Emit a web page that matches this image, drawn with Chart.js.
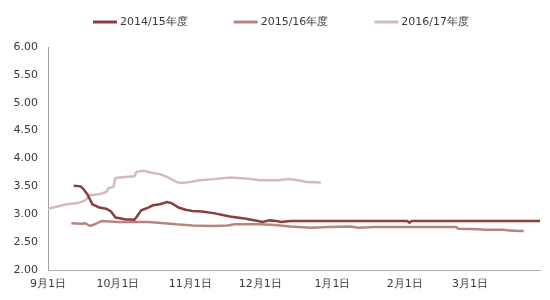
<!DOCTYPE html>
<html>
<head>
<meta charset="utf-8">
<script src="https://cdn.jsdelivr.net/npm/chart.js@4/dist/chart.umd.min.js"></script>
<style>
  html, body { margin: 0; padding: 0; background: #fff; }
  #wrap { width: 550px; height: 300px; }
</style>
</head>
<body>
<div id="wrap"><canvas id="priceChart" width="550" height="300"></canvas></div>
<script>
// x = days since 9月1日
const seriesNames = ["2014/15年度", "2015/16年度", "2016/17年度"];
const seriesColors = ["#8e3d3d", "#b88481", "#d4baba"];

const monthDays = [0, 30, 61, 91, 122, 153, 181];
const monthLabels = ["9月1日", "10月1日", "11月1日", "12月1日", "1月1日", "2月1日", "3月1日"];
const yTicks = [2.00, 2.50, 3.00, 3.50, 4.00, 4.50, 5.00, 5.50, 6.00];

const days1415 = [11, 14, 15, 17, 19, 22, 25, 27, 29, 33, 37, 38, 40, 43, 45, 48, 51, 53, 56, 59, 62, 66, 71, 78, 85, 90, 92, 95, 98, 100, 104, 154, 155, 156, 211];
const vals1415 = [3.51, 3.50, 3.46, 3.35, 3.18, 3.12, 3.10, 3.05, 2.94, 2.91, 2.90, 2.95, 3.07, 3.12, 3.16, 3.18, 3.22, 3.20, 3.12, 3.08, 3.06, 3.05, 3.02, 2.96, 2.92, 2.88, 2.86, 2.89, 2.88, 2.86, 2.88, 2.88, 2.85, 2.88, 2.88];

const days1516 = [10, 14, 16, 18, 20, 23, 30, 43, 50, 55, 62, 70, 77, 80, 90, 96, 104, 113, 120, 130, 133, 140, 175, 176, 185, 187, 195, 198, 202, 204];
const vals1516 = [2.84, 2.83, 2.84, 2.79, 2.82, 2.88, 2.86, 2.86, 2.84, 2.82, 2.80, 2.79, 2.80, 2.82, 2.82, 2.81, 2.78, 2.76, 2.77, 2.78, 2.76, 2.77, 2.77, 2.74, 2.73, 2.72, 2.72, 2.71, 2.70, 2.70];

const days1617 = [0, 4, 8, 13, 16, 18, 22, 25, 26, 28, 29, 33, 37, 38, 41, 45, 48, 51, 55, 57, 61, 65, 71, 78, 85, 91, 99, 103, 107, 111, 117];
const vals1617 = [3.10, 3.14, 3.18, 3.20, 3.25, 3.34, 3.36, 3.40, 3.47, 3.49, 3.65, 3.67, 3.68, 3.76, 3.78, 3.74, 3.72, 3.67, 3.58, 3.56, 3.58, 3.61, 3.63, 3.66, 3.64, 3.61, 3.61, 3.63, 3.61, 3.58, 3.57];

function toPoints(days, vals) {
  return days.map((d, i) => ({ x: d, y: vals[i] }));
}

const textColor = "#3a3a3a";
const font = { family: "'DejaVu Sans', sans-serif", size: 11 };

// legend drawn by hand so items can sit far apart without a tall legend box
const lineLegend = {
  id: "lineLegend",
  afterDraw(chart) {
    const ctx = chart.ctx;
    ctx.save();
    ctx.font = font.size + "px " + font.family;
    const gap = 46, lineW = 24, textGap = 3;
    const sets = chart.data.datasets;
    const widths = sets.map(ds => lineW + textGap + ctx.measureText(ds.label).width);
    const total = widths.reduce((a, b) => a + b, 0) + gap * (sets.length - 1);
    let x = 281 - total / 2;
    const y = 22;
    sets.forEach((ds, i) => {
      ctx.strokeStyle = ds.borderColor;
      ctx.lineWidth = 3;
      ctx.beginPath();
      ctx.moveTo(x, y);
      ctx.lineTo(x + lineW, y);
      ctx.stroke();
      ctx.fillStyle = textColor;
      ctx.textBaseline = "middle";
      ctx.fillText(ds.label, x + lineW + textGap, y);
      x += widths[i] + gap;
    });
    ctx.restore();
  }
};

new Chart(document.getElementById("priceChart"), {
  type: "line",
  data: {
    datasets: [
      { label: seriesNames[0], data: toPoints(days1415, vals1415), borderColor: seriesColors[0] },
      { label: seriesNames[1], data: toPoints(days1516, vals1516), borderColor: seriesColors[1] },
      { label: seriesNames[2], data: toPoints(days1617, vals1617), borderColor: seriesColors[2] }
    ]
  },
  options: {
    responsive: false,
    animation: false,
    layout: { padding: { top: 47, right: 10, left: 0, bottom: 0 } },
    elements: {
      line: { borderWidth: 2.5, tension: 0, fill: false },
      point: { radius: 0 }
    },
    plugins: {
      legend: { display: false },
      tooltip: { enabled: false }
    },
    scales: {
      x: {
        type: "linear",
        min: 0,
        max: 211,
        afterFit(scale) { scale.height = 30; },
        afterBuildTicks(scale) { scale.ticks = monthDays.map(v => ({ value: v })); },
        grid: { drawOnChartArea: false, drawTicks: false },
        border: { color: "#b0b0b0", width: 1 },
        ticks: {
          autoSkip: false,
          maxRotation: 0,
          padding: 8,
          color: textColor,
          font: font,
          callback: (v) => monthLabels[monthDays.indexOf(v)]
        }
      },
      y: {
        min: 2,
        max: 6,
        afterFit(scale) { scale.width = 48; },
        afterBuildTicks(scale) { scale.ticks = yTicks.map(v => ({ value: v })); },
        grid: { drawOnChartArea: false, drawTicks: false },
        border: { color: "#a0a0a0", width: 1 },
        ticks: {
          padding: 10,
          color: textColor,
          font: font,
          callback: (v) => v.toFixed(2)
        }
      }
    }
  },
  plugins: [lineLegend]
});
</script>
</body>
</html>
